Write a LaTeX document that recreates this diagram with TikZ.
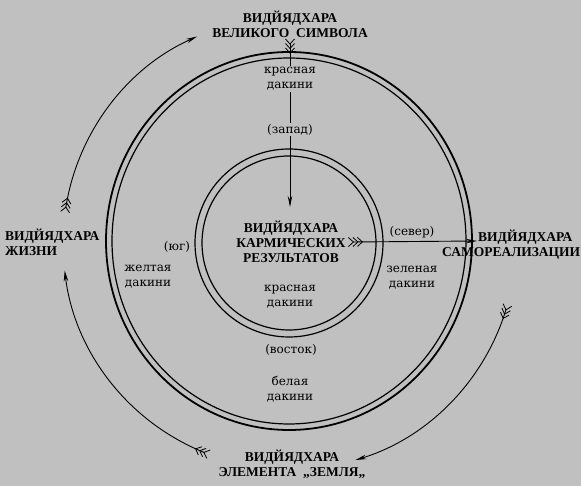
\documentclass[tikz,border=0pt]{standalone}
\usepackage{fontspec}
\setmainfont{Liberation Serif}
\newfontfamily\labelfont{DejaVu Serif}
\usetikzlibrary{arrows.meta,positioning,decorations.markings,calc}
\definecolor{paper}{RGB}{192,192,192}
\tikzset{
  title/.style={font=\bfseries\fontsize{13.5}{15}\selectfont, align=center, inner sep=1pt},
  dlabel/.style={font=\labelfont\fontsize{12}{15}\selectfont, align=center, inner sep=1pt},
  onshaft/.style={dlabel, fill=paper},
  ringthick/.style={line width=1.8pt},
  ringthin/.style={line width=1.2pt},
  flow/.style={line width=0.9pt, -{Stealth[length=11pt,width=4.5pt]}},
  chevron/.style={-, line width=0.8pt},
  fletched/.style={postaction={decorate}, decoration={markings,
      mark=at position 0.5pt with {\draw[chevron] (-5pt,4.5pt) -- (0,0) -- (-5pt,-4.5pt);},
      mark=at position 5pt with {\draw[chevron] (-5pt,4.5pt) -- (0,0) -- (-5pt,-4.5pt);},
      mark=at position 9.5pt with {\draw[chevron] (-5pt,4.5pt) -- (0,0) -- (-5pt,-4.5pt);}}},
}
\begin{document}
\begin{tikzpicture}[x=1pt,y=1pt]
  \fill[paper] (0,0) rectangle (581,486);
  \useasboundingbox (0,0) rectangle (581,486);
  \coordinate (ctr) at (289,243);
  % rings
  \draw[ringthick] (289,245) ellipse[x radius=183, y radius=189];
  \draw[ringthin] (289,245) ellipse[x radius=177, y radius=183];
  \draw[ringthin] (ctr) circle[radius=94];
  \draw[ringthin] (ctr) circle[radius=87];
  % vidyadharas
  \node[title] (great) at (290,462) {ВИДЙЯДХАРА\\ВЕЛИКОГО\ \ СИМВОЛА};
  \node[title] (karma) at (291,244) {ВИДЙЯДХАРА\\КАРМИЧЕСКИХ\\РЕЗУЛЬТАТОВ};
  \node[title, anchor=west, align=left] (selfreal) at (441,241) {\hspace*{36pt}ВИДЙЯДХАРА\\САМОРЕАЛИЗАЦИИ};
  \node[title, anchor=west, align=left] (life) at (4,244) {ВИДЙЯДХАРА\\ЖИЗНИ};
  \node[title] (earth) at (292,22) {ВИДЙЯДХАРА\\ЭЛЕМЕНТА\ \ „ЗЕМЛЯ„};
  % straight arrows
  \coordinate (wtip) at ($(karma.north)+(0,13)$);
  \coordinate (etip) at (477,245);
  \draw[flow,fletched] ([yshift=-5pt]great.south) -- (great.south |- wtip);
  \draw[flow,fletched] ([xshift=6pt]karma.east) -- (etip);
  % dakinis and directions
  \node[onshaft] (redout) at (290,407) {красная\\дакини};
  \node[onshaft] (west) at (290,356) {(запад)};
  \node[dlabel] (north) at (412,254) {(север)};
  \node[dlabel] (green) at (412,208) {зеленая\\дакини};
  \node[dlabel] (south) at (177,239) {(юг)};
  \node[dlabel] (yellow) at (148,209) {желтая\\дакини};
  \node[dlabel] (redin) at (290,189) {красная\\дакини};
  \node[dlabel] (east) at (291,136) {(восток)};
  \node[dlabel] (white) at (290,97) {белая\\дакини};
  % outer cycle
  \draw[flow,fletched] ($(ctr)+(171:226)$) arc[start angle=171,end angle=114,radius=226];
  \draw[flow,fletched] ($(ctr)+(248:226)$) arc[start angle=248,end angle=187,radius=226];
  \draw[flow,fletched] ($(ctr)+(-17:227)$) arc[start angle=-17,end angle=-73,radius=227];
\end{tikzpicture}
\end{document}
